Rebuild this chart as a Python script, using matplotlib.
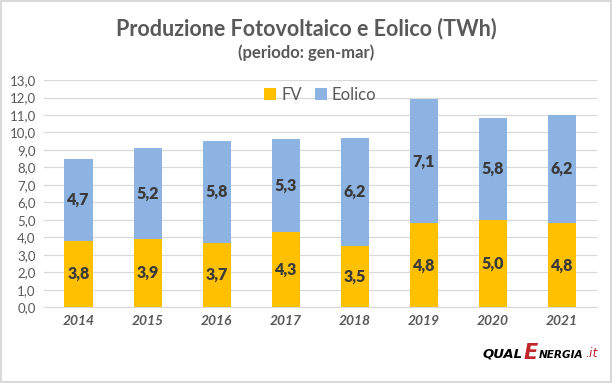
import numpy as np
import matplotlib.pyplot as plt
from matplotlib.patches import Rectangle

years = ["2014", "2015", "2016", "2017", "2018", "2019", "2020", "2021"]
fv = [3.8, 3.9, 3.7, 4.3, 3.5, 4.8, 5.0, 4.8]
eolico = [4.7, 5.2, 5.8, 5.3, 6.2, 7.1, 5.8, 6.2]
y_ticks = np.arange(0, 14, 1.0)

FV_COLOR = "#FFC000"
EOL_COLOR = "#8DB3E2"
TXT = "#595959"

plt.rcParams["font.family"] = ["Lato", "DejaVu Sans"]

fig = plt.figure(figsize=(6.12, 3.83), dpi=100)
ax = fig.add_axes([0.072, 0.198, 0.903, 0.593])

x = np.arange(len(years))
w = 0.41
ax.bar(x, fv, w, color=FV_COLOR, label="FV", zorder=3)
ax.bar(x, eolico, w, bottom=fv, color=EOL_COLOR, label="Eolico", zorder=3)

# etichette dentro le barre
for i in range(len(years)):
    ax.text(x[i], fv[i] / 2, f"{fv[i]:.1f}".replace(".", ","), ha="center", va="center",
            fontsize=11.5, fontweight="heavy", color="#3A3A3A", zorder=4)
    ax.text(x[i], fv[i] + eolico[i] / 2, f"{eolico[i]:.1f}".replace(".", ","), ha="center",
            va="center", fontsize=11.5, fontweight="heavy", color="#3A3A3A", zorder=4)

ax.set_xlim(-0.5, len(years) - 0.5)
ax.set_ylim(0, 13)
ax.set_yticks(y_ticks)
ax.set_yticklabels([f"{v:.1f}".replace(".", ",") for v in y_ticks], fontsize=9.5, color=TXT)
ax.set_xticks(x)
ax.set_xticklabels(years, fontsize=10, fontweight="bold", style="italic", color=TXT)
ax.tick_params(length=0, pad=6)
ax.grid(axis="y", color="#D9D9D9", linewidth=0.9, zorder=0)
for s in ax.spines.values():
    s.set_visible(False)
ax.spines["bottom"].set_visible(True)
ax.spines["bottom"].set_color("#D9D9D9")

leg = ax.legend(loc="upper center", bbox_to_anchor=(0.5, 1.035), ncol=2, frameon=False,
                fontsize=12, handlelength=0.7, handleheight=0.7, handletextpad=0.3,
                columnspacing=0.8)
for t in leg.get_texts():
    t.set_color(TXT)

fig.text(0.5, 0.925, "Produzione Fotovoltaico e Eolico (TWh)", ha="center", va="center",
         fontsize=15.5, fontweight="bold", color=TXT)
fig.text(0.5, 0.862, "(periodo: gen-mar)", ha="center", va="center",
         fontsize=12, fontweight="bold", color=TXT)

# logo
fig.text(0.788, 0.06, "QUAL", ha="left", va="bottom", fontsize=9.5, fontweight="bold",
         style="italic", color="black", family="DejaVu Sans")
fig.text(0.856, 0.052, "E", ha="left", va="bottom", fontsize=15, fontweight="bold",
         style="italic", color="#C0272D", family="DejaVu Sans")
fig.text(0.881, 0.06, "NERGIA", ha="left", va="bottom", fontsize=7.6, fontweight="bold",
         style="italic", color="black", family="DejaVu Sans")
fig.text(0.957, 0.06, ".it", ha="left", va="bottom", fontsize=9,
         style="italic", color="#C0272D", family="DejaVu Sans")

fig.patches.append(Rectangle((0.001, 0.002), 0.997, 0.995, transform=fig.transFigure,
                             fill=False, edgecolor="#D9D9D9", linewidth=1.5))

fig.savefig("out.png", dpi=100)
